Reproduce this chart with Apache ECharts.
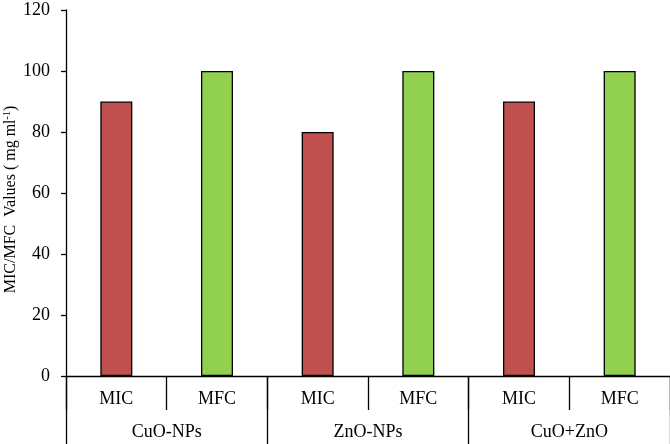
<!DOCTYPE html>
<html><head><meta charset="utf-8">
<script src="https://cdn.jsdelivr.net/npm/echarts@6/dist/echarts.min.js"></script>
<style>html,body{margin:0;padding:0;background:#fff}#c{width:670px;height:444px}</style>
</head><body><div id="c"></div>
<script>
var groups = ['CuO-NPs', 'ZnO-NPs', 'CuO+ZnO'];
var subCategories = ['MIC', 'MFC', 'MIC', 'MFC', 'MIC', 'MFC'];
var values = [90, 100, 80, 100, 90, 100];
var barColors = ['#C0504D', '#92D050', '#C0504D', '#92D050', '#C0504D', '#92D050'];
var yTicks = [0, 20, 40, 60, 80, 100, 120];

var font = 'Liberation Serif';
var chart = echarts.init(document.getElementById('c'));
chart.setOption({
  animation: false,
  grid: {left: 66, right: 0, top: 10, bottom: 68, containLabel: false, outerBoundsMode: 'none'},
  xAxis: [{
    type: 'category', data: subCategories, position: 'bottom',
    axisLine: {show: true, lineStyle: {color: '#000', width: 1.3}},
    axisTick: {show: true, inside: false, length: 34, lineStyle: {color: '#000', width: 1.3}},
    axisLabel: {color: '#000', fontFamily: font, fontSize: 18, margin: 14}
  }, {
    type: 'category', data: groups, position: 'bottom', gridIndex: 0,
    axisLine: {show: false},
    axisTick: {show: true, inside: false, length: 70, lineStyle: {color: '#000', width: 1.3}},
    axisLabel: {color: '#000', fontFamily: font, fontSize: 18, margin: 47}
  }],
  yAxis: {
    type: 'value', min: 0, max: 120, interval: 20,
    axisLine: {show: true, lineStyle: {color: '#000', width: 1.3}},
    axisTick: {show: true, inside: false, length: 5, lineStyle: {color: '#000', width: 1.3}},
    splitLine: {show: false},
    axisLabel: {color: '#000', fontFamily: font, fontSize: 18, margin: 16,
      formatter: function (v) { return yTicks.indexOf(v) >= 0 ? String(v) : ''; }},
    name: '{a|MIC/MFC  Values ( mg ml}{s|-1}{a|)}',
    nameLocation: 'middle', nameGap: 46, nameRotate: 90, nameMoveOverlap: false,
    nameTextStyle: {
      padding: [0, 13, 0, 0],
      rich: {
        a: {fontFamily: font, fontSize: 16, color: '#000'},
        s: {fontFamily: font, fontSize: 10, color: '#000', verticalAlign: 'top', padding: [0, 0, 8, 0]}
      }
    }
  },
  series: [{
    type: 'bar', xAxisIndex: 0, barWidth: 32,
    data: values.map(function (v, i) {
      return {value: v, itemStyle: {color: barColors[i], borderColor: '#000', borderWidth: 1.3}};
    })
  }]
});
</script></body></html>
